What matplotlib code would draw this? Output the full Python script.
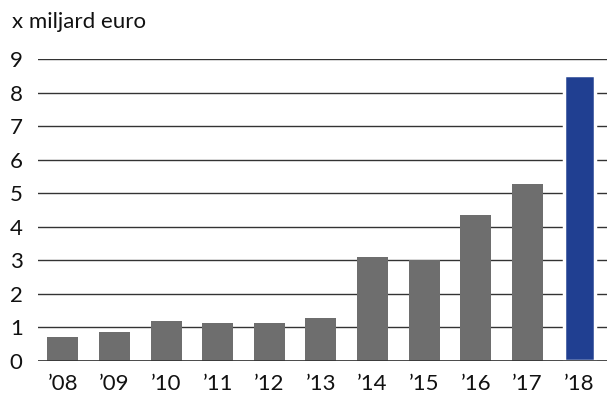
import numpy as np
import matplotlib.pyplot as plt

plt.rcParams['font.family'] = ['Lato', 'DejaVu Sans']

years = ['’08', '’09', '’10', '’11', '’12', '’13', '’14', '’15', '’16', '’17', '’18']
values = [0.72, 0.87, 1.18, 1.12, 1.12, 1.29, 3.11, 3.0, 4.35, 5.27, 8.52]
bar_colors = ['#6e6e6e'] * 10 + ['#203f91']

fig = plt.figure(figsize=(6.07, 3.99), dpi=100)
ax = fig.add_axes([38 / 607, 38 / 399, 569 / 607, 302 / 399])

x = np.arange(len(years))
ax.bar(x[:-1], values[:-1], width=0.6, color=bar_colors[:-1], zorder=3)
# last bar gets a white halo that cuts the gridlines
ax.bar(x[-1:], values[-1:], width=0.6, color=bar_colors[-1], edgecolor='white',
       linewidth=2.5, zorder=3)

ax.set_xlim(-0.48, 10.54)
ax.set_ylim(0, 9)
ax.set_yticks(range(10))
ax.set_xticks(x)
ax.set_xticklabels(years)
ax.yaxis.grid(True, color='#333333', linewidth=1)
ax.axhline(0, color='#333333', linewidth=1.2, zorder=4)
for s in ax.spines.values():
    s.set_visible(False)
ax.tick_params(length=0, labelsize=16, colors='#111111')
ax.tick_params(axis='y', pad=11)
ax.tick_params(axis='x', pad=9)

fig.text(12 / 607, 1 - 22 / 399, 'x miljard euro', fontsize=16, va='center', ha='left', color='#111111')

fig.savefig('out.png', dpi=100)
